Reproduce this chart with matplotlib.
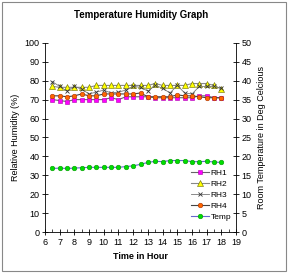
import matplotlib
matplotlib.use("Agg")
import matplotlib.pyplot as plt
from matplotlib.ticker import MultipleLocator
from matplotlib.patches import Rectangle

plt.rcParams['font.family'] = ['Liberation Sans', 'DejaVu Sans']

hours = [6.5, 7, 7.5, 8, 8.5, 9, 9.5, 10, 10.5, 11, 11.5, 12, 12.5, 13, 13.5, 14,
         14.5, 15, 15.5, 16, 16.5, 17, 17.5, 18]
rh1 = [70, 69.5, 69, 70, 70, 70, 70, 70, 71, 70, 71.5, 71.5, 71.5, 71.5, 71, 71,
       71, 71, 71, 71, 72, 72, 71, 71]
rh2 = [77, 76.5, 76.5, 76.5, 76.5, 76.5, 77.5, 77.5, 77.5, 77.5, 77.5, 77.5, 77.5,
       77.5, 78.5, 77.5, 77.5, 77.5, 77.5, 78.5, 78.5, 78.5, 77.5, 75.5]
rh3 = [79.5, 77, 74.5, 77, 75.5, 73, 74, 75, 73.5, 74, 75, 77, 76.5, 74.5, 77.5, 76,
       73.5, 77.5, 73.5, 73, 77, 77, 77, 76]
rh4 = [72, 72, 71.5, 72, 73, 72, 72, 73, 73, 73, 73, 73, 73.5, 71.5, 71.5, 71.5,
       71.5, 72.5, 72, 72, 71.5, 71, 71, 71]
temp = [16.8, 16.9, 16.8, 16.9, 17.0, 17.1, 17.1, 17.1, 17.1, 17.1, 17.3, 17.5,
        17.9, 18.4, 18.7, 18.6, 18.9, 18.9, 18.9, 18.6, 18.6, 18.7, 18.5, 18.4]

fig = plt.figure(figsize=(2.88, 2.73), dpi=100)
fig.patches.append(Rectangle((0.008, 0.008), 0.984, 0.984, transform=fig.transFigure,
                             fill=False, edgecolor='#888888', linewidth=0.8))
ax = fig.add_axes([0.156, 0.150, 0.664, 0.693])
ax2 = ax.twinx()

lw = 0.8
ms = 3.3
l1, = ax.plot(hours, rh1, color='#666666', lw=lw, marker='s', ms=ms,
              mfc='#FF00FF', mec='#AA00AA', mew=0.4, label='RH1')
l2, = ax.plot(hours, rh2, color='#888888', lw=lw, marker='^', ms=ms + 0.5,
              mfc='#FFFF00', mec='#666600', mew=0.4, label='RH2')
l3, = ax.plot(hours, rh3, color='#777777', lw=0.6, marker='x', ms=ms,
              mec='#333333', mew=0.6, label='RH3')
l4, = ax.plot(hours, rh4, color='#444444', lw=lw, marker='o', ms=ms,
              mfc='#FF6600', mec='#AA3300', mew=0.4, label='RH4')
l5, = ax2.plot(hours, temp, color='#6666CC', lw=lw, marker='o', ms=ms,
               mfc='#00DD00', mec='#009900', mew=0.4, label='Temp')

ax.set_xlim(6, 19)
ax.set_ylim(0, 100)
ax2.set_ylim(0, 50)
ax.xaxis.set_major_locator(MultipleLocator(1))
ax.xaxis.set_minor_locator(MultipleLocator(0.5))
ax.yaxis.set_major_locator(MultipleLocator(10))
ax2.yaxis.set_major_locator(MultipleLocator(5))

for a in (ax, ax2):
    a.spines['top'].set_visible(False)
    for s in a.spines.values():
        s.set_linewidth(0.6)
ax.spines['right'].set_visible(False)
ax2.spines['left'].set_visible(False)
ax2.spines['bottom'].set_visible(False)

ax.tick_params(axis='both', which='major', direction='inout', length=4, width=0.6,
               labelsize=6.5, pad=2)
ax.tick_params(axis='x', which='minor', direction='in', length=2, width=0.5)
ax2.tick_params(axis='y', which='major', direction='inout', length=4, width=0.6,
                labelsize=6.5, pad=2)

ax.set_xlabel('Time in Hour', fontsize=6.5, fontweight='bold', labelpad=4)
ax.set_ylabel('Relative Humidity (%)', fontsize=6.5, labelpad=3)
ax2.set_ylabel('Room Temperature in Deg Celcious', fontsize=6.5, labelpad=4)
fig.text(0.49, 0.945, 'Temperature Humidity Graph', ha='center', va='center',
         fontsize=7, fontweight='bold')

ax.legend(handles=[l1, l2, l3, l4, l5], loc='lower right', frameon=False,
          fontsize=6, handlelength=2.2, handletextpad=0.2, labelspacing=0.4,
          borderaxespad=0.2, bbox_to_anchor=(1.0, 0.03))

fig.savefig('out.png', dpi=100)
